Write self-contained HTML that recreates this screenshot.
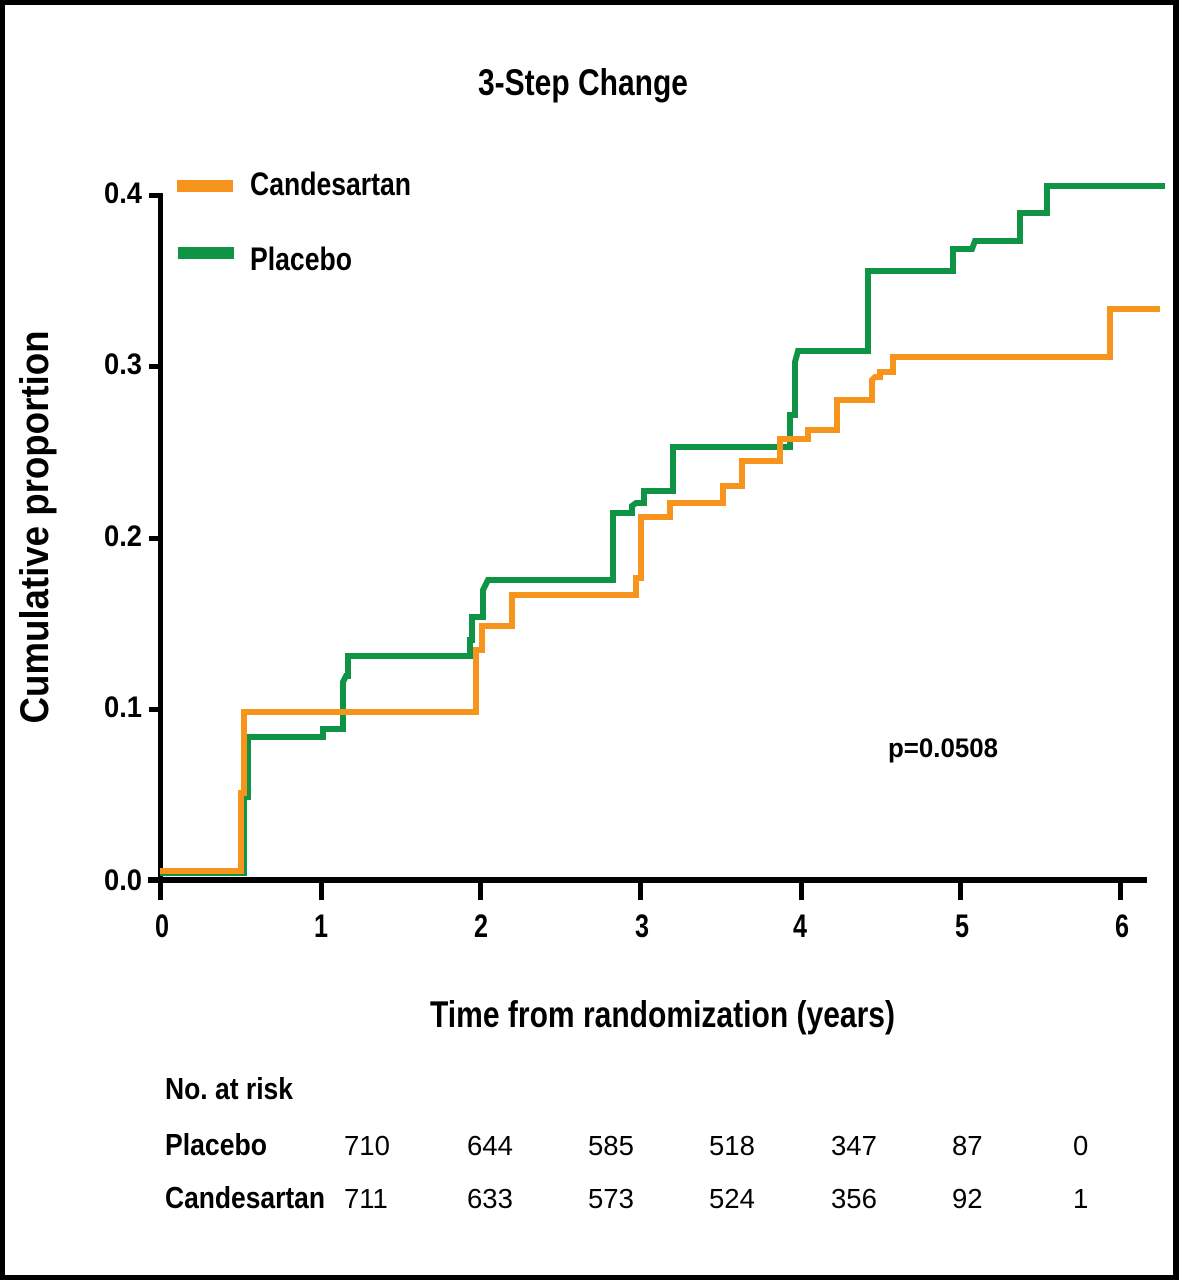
<!DOCTYPE html>
<html>
<head>
<meta charset="utf-8">
<style>
  html, body { margin: 0; padding: 0; background: #fff; }
  body { width: 1179px; height: 1280px; overflow: hidden; }
  svg { display: block; }
  text { font-family: "Liberation Sans", Arial, sans-serif; fill: #000; }
  .b { font-weight: bold; }
</style>
</head>
<body>
<svg width="1179" height="1280" viewBox="0 0 1179 1280" xmlns="http://www.w3.org/2000/svg">
  <rect x="0" y="0" width="1179" height="1280" fill="#fff"/>
  <!-- frame -->
  <rect x="0" y="0" width="1179" height="5" fill="#000"/>
  <rect x="0" y="0" width="5" height="1280" fill="#000"/>
  <rect x="1173" y="0" width="6" height="1280" fill="#000"/>
  <rect x="0" y="1275" width="1179" height="5" fill="#000"/>

  <!-- title -->
  <text class="b" x="478" y="95" font-size="37" textLength="210" lengthAdjust="spacingAndGlyphs">3-Step Change</text>

  <!-- legend -->
  <rect x="177" y="180" width="56" height="12" fill="#F7941D"/>
  <text class="b" x="250" y="195" font-size="32" textLength="161" lengthAdjust="spacingAndGlyphs">Candesartan</text>
  <rect x="178" y="247" width="56" height="12" fill="#0F9345"/>
  <text class="b" x="250" y="270" font-size="32" textLength="102" lengthAdjust="spacingAndGlyphs">Placebo</text>

  <!-- y axis label -->
  <text class="b" transform="translate(48,527) rotate(-90)" x="0" y="0" text-anchor="middle" font-size="40" textLength="393" lengthAdjust="spacingAndGlyphs">Cumulative proportion</text>

  <!-- axes -->
  <rect x="158" y="193" width="5" height="690" fill="#000"/>
  <rect x="149" y="193" width="14" height="5" fill="#000"/>
  <rect x="149" y="364" width="12" height="5" fill="#000"/>
  <rect x="149" y="536" width="12" height="5" fill="#000"/>
  <rect x="149" y="707" width="12" height="5" fill="#000"/>
  <rect x="148" y="877" width="999" height="6" fill="#000"/>
  <g fill="#000">
    <rect x="158" y="877" width="5" height="23"/>
    <rect x="319" y="877" width="5" height="23"/>
    <rect x="478" y="877" width="5" height="23"/>
    <rect x="638" y="877" width="5" height="23"/>
    <rect x="799" y="877" width="5" height="23"/>
    <rect x="958" y="877" width="5" height="23"/>
    <rect x="1118" y="877" width="5" height="23"/>
  </g>

  <!-- y tick labels -->
  <g class="b" font-size="30" text-anchor="end">
    <text x="142" y="203" textLength="38" lengthAdjust="spacingAndGlyphs">0.4</text>
    <text x="142" y="374" textLength="38" lengthAdjust="spacingAndGlyphs">0.3</text>
    <text x="142" y="546" textLength="38" lengthAdjust="spacingAndGlyphs">0.2</text>
    <text x="142" y="717" textLength="38" lengthAdjust="spacingAndGlyphs">0.1</text>
    <text x="142" y="890" textLength="38" lengthAdjust="spacingAndGlyphs">0.0</text>
  </g>

  <!-- x tick labels -->
  <g class="b" font-size="32" text-anchor="middle">
    <text x="162" y="937" textLength="14" lengthAdjust="spacingAndGlyphs">0</text>
    <text x="321" y="937" textLength="14" lengthAdjust="spacingAndGlyphs">1</text>
    <text x="481" y="937" textLength="14" lengthAdjust="spacingAndGlyphs">2</text>
    <text x="642" y="937" textLength="14" lengthAdjust="spacingAndGlyphs">3</text>
    <text x="800" y="937" textLength="14" lengthAdjust="spacingAndGlyphs">4</text>
    <text x="962" y="937" textLength="14" lengthAdjust="spacingAndGlyphs">5</text>
    <text x="1122" y="937" textLength="14" lengthAdjust="spacingAndGlyphs">6</text>
  </g>

  <!-- curves -->
  <path d="M160,873 H244 V797 H248 V737 H323 V729 H343 V682 L346,676 H348 V656 H470 V640 H472 V617 H483 V590 L488,580 H613 V513 H632 V506 L636,503 H644 V491 H673 V447 H790 V415 H795 V362 L798,351 H868 V271 H953 V249 H972 L975,241 H1020 V213 H1047 V186 H1165"
        fill="none" stroke="#0F9345" stroke-width="6" stroke-linejoin="miter"/>
  <path d="M160,871 H241 V793 H244 V712 H476 V650 H482 V626 H512 V595 H636 V578 H641 V517 H670 V503 H723 V486 H742 V461 H780 V439 H808 V430 H837 V400 H872 V380 L875,377 H880 V372 H893 V357 H1110 V309 H1160"
        fill="none" stroke="#F7941D" stroke-width="6" stroke-linejoin="miter"/>

  <!-- p value -->
  <text class="b" x="888" y="757" font-size="27" textLength="110" lengthAdjust="spacingAndGlyphs">p=0.0508</text>

  <!-- x axis label -->
  <text class="b" x="430" y="1027" font-size="37" textLength="465" lengthAdjust="spacingAndGlyphs">Time from randomization (years)</text>

  <!-- risk table -->
  <text class="b" x="165" y="1099" font-size="31" textLength="128" lengthAdjust="spacingAndGlyphs">No. at risk</text>
  <text class="b" x="165" y="1155" font-size="31" textLength="102" lengthAdjust="spacingAndGlyphs">Placebo</text>
  <text class="b" x="165" y="1208" font-size="31" textLength="160" lengthAdjust="spacingAndGlyphs">Candesartan</text>

  <g font-size="27.5">
    <text x="344" y="1155">710</text>
    <text x="467" y="1155">644</text>
    <text x="588" y="1155">585</text>
    <text x="709" y="1155">518</text>
    <text x="831" y="1155">347</text>
    <text x="952" y="1155">87</text>
    <text x="1073" y="1155">0</text>

    <text x="344" y="1208">711</text>
    <text x="467" y="1208">633</text>
    <text x="588" y="1208">573</text>
    <text x="709" y="1208">524</text>
    <text x="831" y="1208">356</text>
    <text x="952" y="1208">92</text>
    <text x="1073" y="1208">1</text>
  </g>
</svg>
</body>
</html>
